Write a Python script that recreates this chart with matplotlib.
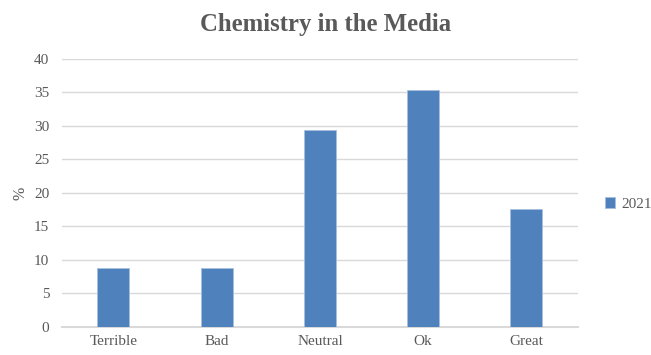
import matplotlib
matplotlib.use("Agg")
import matplotlib.pyplot as plt
import numpy as np

# data
categories = ["Terrible", "Bad", "Neutral", "Ok", "Great"]
values_2021 = [8.8, 8.8, 29.4, 35.3, 17.6]
series_name = "2021"
yticks = [0, 5, 10, 15, 20, 25, 30, 35, 40]

text_color = "#595959"
bar_color = "#4F81BD"
grid_color = "#D9D9D9"

plt.rcParams["font.family"] = ["Liberation Serif", "DejaVu Serif"]

fig = plt.figure(figsize=(6.51, 3.55), dpi=100)
ax = fig.add_axes([0.095, 0.079, 0.793, 0.755])

x = np.arange(len(categories))
ax.bar(x, values_2021, width=0.31, color=bar_color, edgecolor="#A7BFDE",
       linewidth=0.6, label=series_name, zorder=3)

ax.set_xlim(-0.5, len(categories) - 0.5)
ax.set_ylim(0, 40)
ax.set_yticks(yticks)
ax.set_xticks(x)
ax.set_xticklabels(categories)
ax.tick_params(axis="both", length=0, labelsize=11, colors=text_color, pad=9)
ax.tick_params(axis="x", pad=6)

ax.grid(axis="y", color=grid_color, linewidth=1, zorder=0)
for side in ["top", "right", "left"]:
    ax.spines[side].set_visible(False)
ax.spines["bottom"].set_color(grid_color)
ax.spines["bottom"].set_linewidth(1.5)

ax.set_ylabel("%", color=text_color, fontsize=11.5, labelpad=4)

fig.text(0.5, 0.932, "Chemistry in the Media", ha="center", va="center",
         fontsize=17.8, fontweight="bold", color=text_color)

ax.legend(loc="center left", bbox_to_anchor=(1.025, 0.46), frameon=False,
          fontsize=11, labelcolor=text_color, handlelength=0.7,
          handleheight=0.7, handletextpad=0.4)

fig.savefig("out.png", dpi=100)
